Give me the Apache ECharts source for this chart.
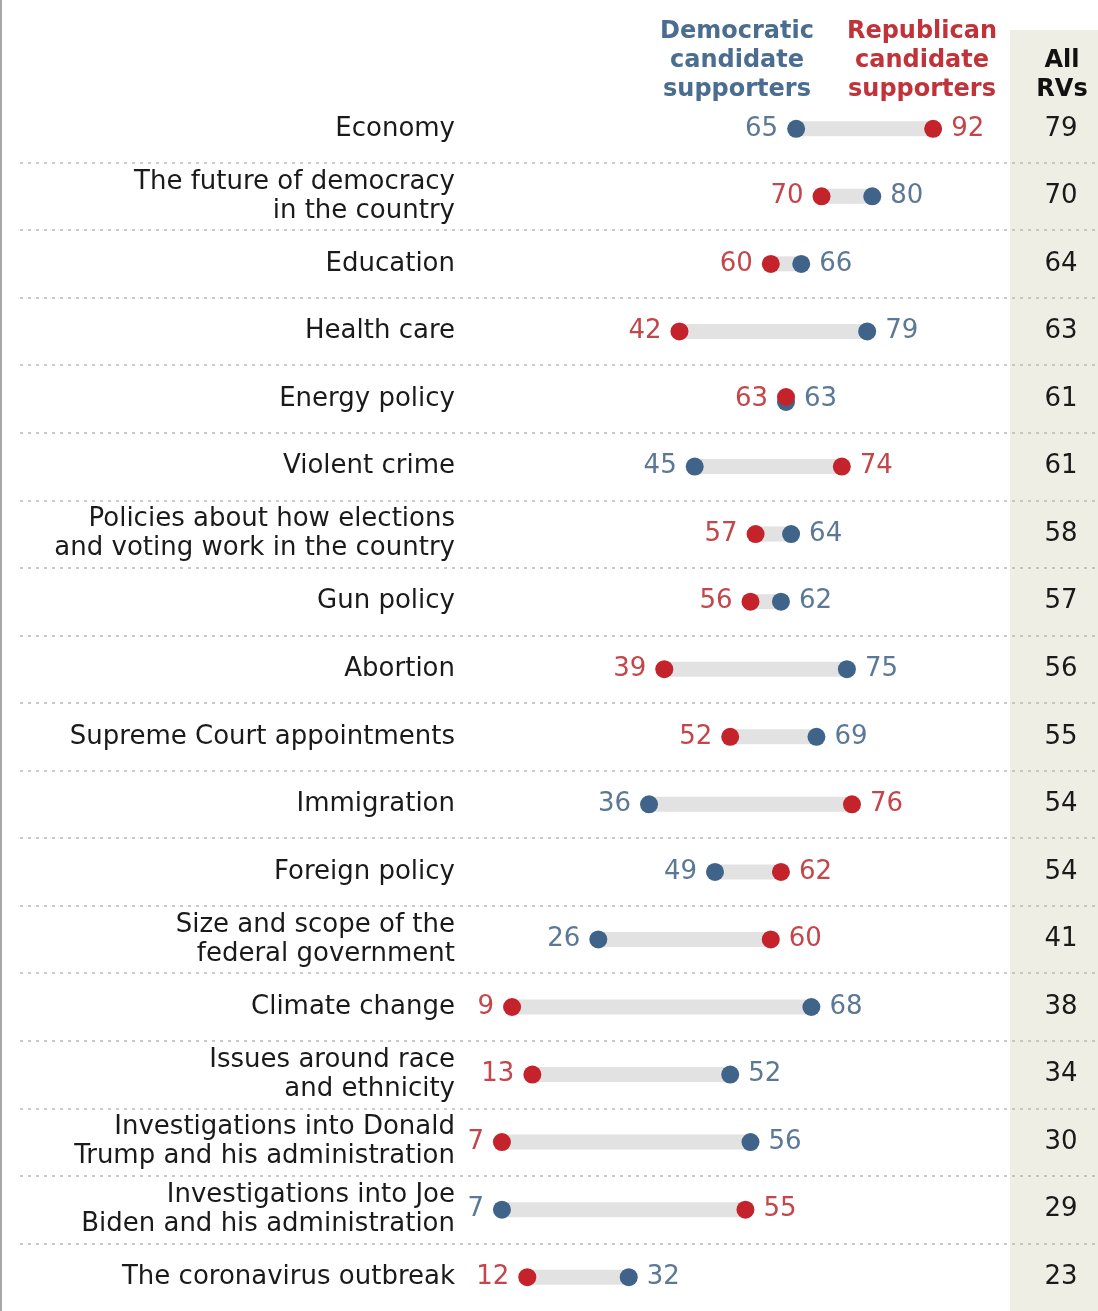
<!DOCTYPE html>
<html>
<head>
<meta charset="utf-8">
<script src="https://cdn.jsdelivr.net/npm/echarts@6/dist/echarts.min.js"></script>
<style>
html,body{margin:0;padding:0;background:#fff;}
#chart{width:1098px;height:1311px;}
</style>
</head>
<body>
<div id="chart"></div>
<script>
const categories = [
  'Economy',
  'The future of democracy\nin the country',
  'Education',
  'Health care',
  'Energy policy',
  'Violent crime',
  'Policies about how elections\nand voting work in the country',
  'Gun policy',
  'Abortion',
  'Supreme Court appointments',
  'Immigration',
  'Foreign policy',
  'Size and scope of the\nfederal government',
  'Climate change',
  'Issues around race\nand ethnicity',
  'Investigations into Donald\nTrump and his administration',
  'Investigations into Joe\nBiden and his administration',
  'The coronavirus outbreak'
];
const demValues = [65, 80, 66, 79, 63, 45, 64, 62, 75, 69, 36, 49, 26, 68, 52, 56, 7, 32];
const repValues = [92, 70, 60, 42, 63, 74, 57, 56, 39, 52, 76, 62, 60, 9, 13, 7, 55, 12];
const allRVs = [79, 70, 64, 63, 61, 61, 58, 57, 56, 55, 54, 54, 41, 38, 34, 30, 29, 23];

const FONT = '"DejaVu Sans", sans-serif';
const DEM_DOT = '#3f6389';
const REP_DOT = '#c4232b';
const DEM_TXT = '#5b7896';
const REP_TXT = '#c4464b';

const rangeData = categories.map((c, i) => [Math.min(demValues[i], repValues[i]), Math.max(demValues[i], repValues[i]), i]);
const demData = demValues.map((v, i) => {
  const tie = v === repValues[i];
  return {
    value: [v, i],
    symbolOffset: tie ? [0, 3] : [0, 0],
    label: { position: v < repValues[i] ? 'left' : 'right', offset: tie ? [0, -3] : [0, 0] }
  };
});
const repData = repValues.map((v, i) => {
  const tie = v === demValues[i];
  return {
    value: [v, i],
    symbolOffset: tie ? [0, -2] : [0, 0],
    label: { position: v <= demValues[i] ? 'left' : 'right', offset: tie ? [0, 2] : [0, 0] }
  };
});

const chart = echarts.init(document.getElementById('chart'), null, { renderer: 'canvas' });
chart.setOption({
  animation: false,
  backgroundColor: '#ffffff',
  textStyle: { fontFamily: FONT },
  graphic: [
    { type: 'rect', z: -100, shape: { x: 1010, y: 30, width: 88, height: 1281 }, style: { fill: '#efeee4' } },
    { type: 'rect', shape: { x: 0, y: 0, width: 2, height: 1311 }, style: { fill: '#a8a8a8' } },
    { type: 'text', x: 737, y: 17, style: { text: 'Democratic\ncandidate\nsupporters', fill: '#4a6d90', font: 'bold 24px ' + FONT, lineHeight: 29, align: 'center' } },
    { type: 'text', x: 922, y: 17, style: { text: 'Republican\ncandidate\nsupporters', fill: '#c0333a', font: 'bold 24px ' + FONT, lineHeight: 29, align: 'center' } },
    { type: 'text', x: 1062, y: 46, style: { text: 'All\nRVs', fill: '#111', font: 'bold 24px ' + FONT, lineHeight: 29, align: 'center' } }
  ],
  grid: { left: 20, right: 0, top: 95, height: 1219, containLabel: false },
  xAxis: { type: 'value', min: -88, max: 124.5, show: false },
  yAxis: [
    {
      type: 'category', data: categories, inverse: true,
      axisLine: { show: false }, axisTick: { show: false },
      axisLabel: { inside: true, margin: 435, align: 'right', color: '#1a1a1a', fontSize: 26, lineHeight: 29, fontFamily: FONT },
      splitLine: { show: true, showMinLine: false, showMaxLine: false, lineStyle: { color: '#b8b8b8', width: 1.5, type: [3, 5] } }
    },
    {
      type: 'category', data: allRVs.map(String), inverse: true, position: 'right',
      axisLine: { show: false }, axisTick: { show: false },
      axisLabel: { inside: true, margin: 37, align: 'center', color: '#1a1a1a', fontSize: 26, fontFamily: FONT },
      splitLine: { show: false }
    }
  ],
  series: [
    {
      type: 'custom', yAxisIndex: 0, encode: { x: [0, 1], y: 2 }, data: rangeData,
      renderItem: function (params, api) {
        const lo = api.coord([api.value(0), api.value(2)]);
        const hi = api.coord([api.value(1), api.value(2)]);
        const h = 15;
        return { type: 'rect', shape: { x: lo[0], y: lo[1] - h / 2, width: hi[0] - lo[0], height: h }, style: { fill: '#e2e2e2' } };
      }
    },
    {
      type: 'scatter', name: 'Democratic', yAxisIndex: 0, data: demData, symbolSize: 18,
      itemStyle: { color: DEM_DOT, opacity: 1 },
      label: { show: true, distance: 9, color: DEM_TXT, fontSize: 26, fontFamily: FONT, formatter: p => p.value[0] }
    },
    {
      type: 'scatter', name: 'Republican', yAxisIndex: 0, data: repData, symbolSize: 18, z: 3,
      itemStyle: { color: REP_DOT, opacity: 1 },
      label: { show: true, distance: 9, color: REP_TXT, fontSize: 26, fontFamily: FONT, formatter: p => p.value[0] }
    }
  ]
});
</script>
</body>
</html>
